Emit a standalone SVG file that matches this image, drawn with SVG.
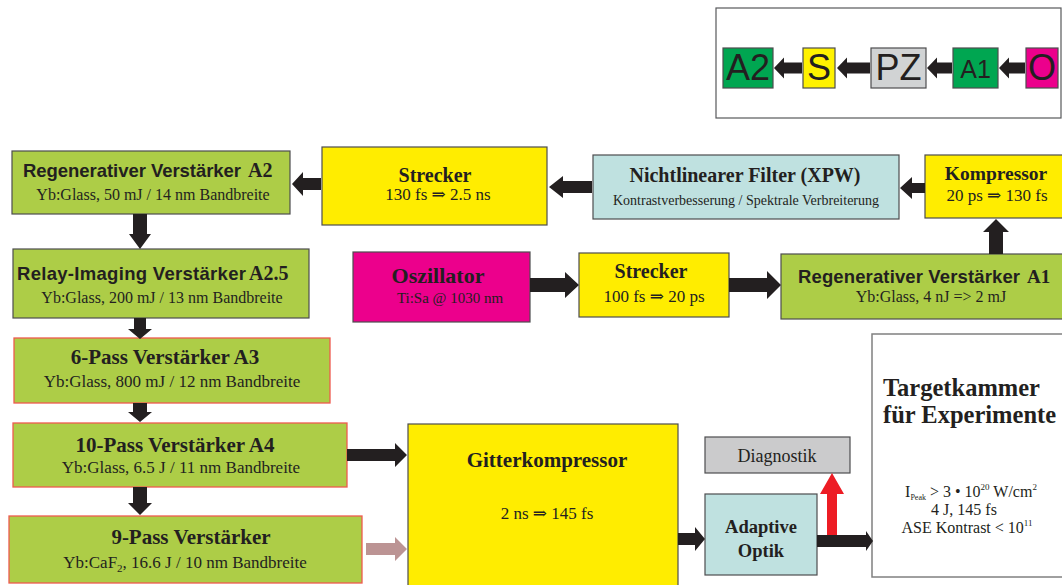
<svg xmlns="http://www.w3.org/2000/svg" width="1062" height="585" viewBox="0 0 1062 585">
<style>
.box{stroke:#4d4d4f;stroke-width:1.2}
.rbox{stroke:#ef5a4f;stroke-width:1.3}
.green{fill:#adcd47}
.yellow{fill:#ffed00}
.blue{fill:#bfe1e0}
.mag{fill:#ec008c}
.gray{fill:#cbcbcc}
.t{font-family:"Liberation Serif","DejaVu Serif",serif;fill:#231f20}
.b{font-weight:bold}
.s{font-family:"Liberation Sans",Arial,sans-serif;font-weight:bold}
.m{text-anchor:middle}
.arr{fill:#231f20}
.leg{font-family:"Liberation Sans",Arial,sans-serif;fill:#231f20;text-anchor:middle}
</style>
<rect width="1062" height="585" fill="#fff"/>

<g id="legend">
<rect x="716" y="8" width="345" height="110" fill="#fff" stroke="#58595b" stroke-width="1.2"/>
<rect x="723" y="48" width="50" height="40" fill="#00a651" class="box"/>
<text x="748" y="80" font-size="36" class="leg">A2</text>
<rect x="803" y="48" width="32" height="40" fill="#fff200" class="box"/>
<text x="819" y="80" font-size="36" class="leg">S</text>
<rect x="871" y="48" width="55" height="40" fill="#d1d3d4" class="box"/>
<text x="898.5" y="80" font-size="36" class="leg">PZ</text>
<rect x="953" y="48" width="45" height="40" fill="#00a651" class="box"/>
<text x="975.5" y="78" font-size="25" class="leg">A1</text>
<rect x="1026" y="48" width="32" height="40" fill="#ec008c" class="box"/>
<text x="1042" y="80" font-size="36" class="leg">O</text>
</g>
<g id="legend-connectors" class="arr">
<polygon points="774,68 784,57.5 784,62.5 802,62.5 802,73.5 784,73.5 784,78.5"/>
<polygon points="837,68 847,57.5 847,62.5 870,62.5 870,73.5 847,73.5 847,78.5"/>
<polygon points="927,68 937,57.5 937,62.5 952,62.5 952,73.5 937,73.5 937,78.5"/>
<polygon points="999,68 1009,57.5 1009,62.5 1025,62.5 1025,73.5 1009,73.5 1009,78.5"/>
</g>

<g id="a2">
<rect x="12" y="151" width="278" height="63" class="green box"/>
<text y="177" class="t"><tspan x="23" class="s" font-size="18.5" textLength="218">Regenerativer Verstärker</tspan><tspan x="248" class="b" font-size="20">A2</tspan></text>
<text x="153" y="200" class="t m" font-size="16">Yb:Glass, 50 mJ / 14 nm Bandbreite</text>
</g>

<g id="strecker-top">
<rect x="322" y="147" width="225" height="78" class="yellow box"/>
<text x="435" y="182" class="t b m" font-size="20">Strecker</text>
<text x="438" y="200" class="t m" font-size="17">130 fs ⇒ 2.5 ns</text>
</g>

<g id="xpw">
<rect x="593" y="155" width="306" height="64" class="blue box"/>
<text x="745" y="182" class="t b m" font-size="20">Nichtlinearer Filter (XPW)</text>
<text x="746" y="205" class="t m" font-size="14">Kontrastverbesserung / Spektrale Verbreiterung</text>
</g>

<g id="kompressor">
<rect x="925" y="155" width="145" height="63" class="yellow box"/>
<text x="996" y="180" class="t b m" font-size="19.5">Kompressor</text>
<text x="997" y="201" class="t m" font-size="17">20 ps ⇒ 130 fs</text>
</g>

<g id="relay">
<rect x="13" y="249" width="296" height="69" class="green box"/>
<text y="280" class="t"><tspan x="17" class="s" font-size="18.5" textLength="229">Relay-Imaging Verstärker</tspan><tspan x="249" class="b" font-size="20">A2.5</tspan></text>
<text x="162" y="303" class="t m" font-size="16">Yb:Glass, 200 mJ / 13 nm Bandbreite</text>
</g>

<g id="oszillator">
<rect x="353" y="252" width="177" height="70" class="mag box"/>
<text x="438" y="283" class="t b m" font-size="22">Oszillator</text>
<text x="450" y="303" class="t m" font-size="15">Ti:Sa @ 1030 nm</text>
</g>

<g id="strecker">
<rect x="579" y="253" width="150" height="64" class="yellow box"/>
<text x="651" y="278" class="t b m" font-size="20">Strecker</text>
<text x="654" y="302" class="t m" font-size="17">100 fs ⇒ 20 ps</text>
</g>

<g id="a1">
<rect x="781" y="254" width="290" height="65" class="green box"/>
<text y="283" class="t"><tspan x="798" class="s" font-size="18.5" textLength="222">Regenerativer Verstärker</tspan><tspan x="1027" class="b" font-size="19">A1</tspan></text>
<text x="931" y="302" class="t m" font-size="16">Yb:Glass, 4 nJ =&gt; 2 mJ</text>
</g>

<g id="a3">
<rect x="14" y="338" width="316" height="65" class="green rbox"/>
<text x="165" y="364" class="t b m" font-size="21">6-Pass Verstärker A3</text>
<text x="172" y="387" class="t m" font-size="17">Yb:Glass, 800 mJ / 12 nm Bandbreite</text>
</g>

<g id="a4">
<rect x="13" y="423" width="334" height="64" class="green rbox"/>
<text x="175" y="452" class="t b m" font-size="21">10-Pass Verstärker A4</text>
<text x="181" y="473" class="t m" font-size="17">Yb:Glass, 6.5 J / 11 nm Bandbreite</text>
</g>

<g id="nine-pass">
<rect x="9" y="516" width="353" height="67" class="green rbox"/>
<text x="191" y="544" class="t b m" font-size="21">9-Pass Verstärker</text>
<text x="185" y="568" class="t m" font-size="17">Yb:CaF<tspan font-size="11" dy="4">2</tspan><tspan dy="-4">, 16.6 J / 10 nm Bandbreite</tspan></text>
</g>

<g id="gitter">
<rect x="408" y="424" width="270" height="175" class="yellow box"/>
<text x="547" y="467" class="t b m" font-size="21">Gitterkompressor</text>
<text x="547" y="519" class="t m" font-size="17">2 ns ⇒ 145 fs</text>
</g>

<g id="diagnostik">
<rect x="705" y="437" width="145" height="36" class="gray box"/>
<text x="777" y="462" class="t m" font-size="18">Diagnostik</text>
</g>

<g id="adaptive">
<rect x="705" y="494" width="112" height="81" class="blue box"/>
<text x="761" y="533" class="t b m" font-size="18.5">Adaptive</text>
<text x="761" y="557" class="t b m" font-size="18.5">Optik</text>
</g>

<g id="target">
<rect x="872" y="334" width="200" height="243" fill="#fff" stroke="#808080" stroke-width="1.5"/>
<text x="883" y="396" class="t b" font-size="24.5">Targetkammer</text>
<text x="883" y="423" class="t b" font-size="24.5">für Experimente</text>
<text x="971" y="497" class="t m" font-size="16">I<tspan font-size="8" dy="3">Peak</tspan><tspan dy="-3"> &gt; 3 • 10</tspan><tspan font-size="9" dy="-7">20</tspan><tspan dy="7"> W/cm</tspan><tspan font-size="9" dy="-7">2</tspan></text>
<text x="964" y="515" class="t m" font-size="16">4 J, 145 fs</text>
<text x="967" y="533" class="t m" font-size="16">ASE Kontrast &lt; 10<tspan font-size="9" dy="-7">11</tspan></text>
</g>

<g id="connectors" class="arr">
<polygon points="292,184 303,172 303,178 321,178 321,190 303,190 303,196"/>
<polygon points="549,187 563,176 563,181 592,181 592,193 563,193 563,198"/>
<polygon points="900,188 912,177 912,183 925,183 925,193 912,193 912,199"/>
<polygon points="996,219 1009,232 1003,232 1003,254 989,254 989,232 983,232"/>
<polygon points="579,285 565,272 565,278 530,278 530,292 565,292 565,298"/>
<polygon points="781,285 767,271 767,278 729,278 729,292 767,292 767,299"/>
<polygon points="140,249 129,234 133,234 133,214 147,214 147,234 151,234"/>
<polygon points="140,339 128,329 134,329 134,318 146,318 146,329 152,329"/>
<polygon points="140,422 128,412 133,412 133,403 147,403 147,412 152,412"/>
<polygon points="140,515 128,503 133,503 133,487 147,487 147,503 152,503"/>
<polygon points="407,455 395,443 395,449 347,449 347,461 395,461 395,467"/>
<polygon points="407,549 395,537 395,543 366,543 366,555 395,555 395,561" fill="#bc9494"/>
<polygon points="705,539 695,527 695,533 678,533 678,545 695,545 695,551"/>
<polygon points="873,541 866,531 866,535 817,535 817,547 866,547 866,551"/>
<polygon points="832,473 844,494 837,494 837,535 827,535 827,494 820,494" fill="#ed1c24"/>
</g>
</svg>
